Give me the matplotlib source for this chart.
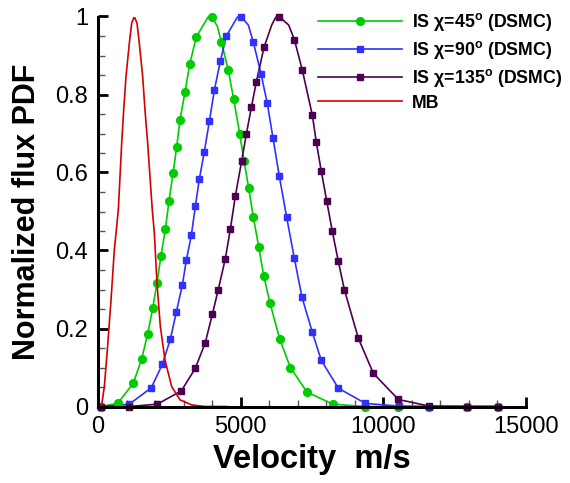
import matplotlib
matplotlib.use("Agg")
import matplotlib.pyplot as plt
from matplotlib.ticker import MultipleLocator, FuncFormatter

plt.rcParams['font.family'] = ['Liberation Sans', 'DejaVu Sans']
plt.rcParams['mathtext.fontset'] = 'custom'
plt.rcParams['mathtext.rm'] = 'Liberation Sans:bold'

# IS chi=45 (DSMC), markers
g_v = [105, 690, 1238, 1531, 1741, 1917, 2068, 2208, 2360, 2489, 2629, 2757, 2874,
       3049, 3213, 3446, 3985, 4323, 4568, 4755, 4966, 5117, 5282, 5445, 5632, 5808,
       6029, 6368, 6741, 7326, 8226, 9358, 10526, 11612, 12944, 14030]
g_f = [0.0, 0.008, 0.060, 0.122, 0.186, 0.252, 0.317, 0.387, 0.454, 0.527, 0.598, 0.665, 0.735,
       0.806, 0.877, 0.948, 1.0, 0.935, 0.862, 0.788, 0.699, 0.630, 0.560, 0.485, 0.410, 0.335,
       0.265, 0.173, 0.100, 0.037, 0.006, 0.0, 0.0, 0.0, 0.0, 0.0]
# extra line points near the peak (no marker)
g_pk_v = [3691, 3850, 4182]
g_pk_f = [0.978, 0.998, 0.975]

# IS chi=90 (DSMC)
b_v = [105, 1097, 1868, 2254, 2534, 2745, 2955, 3096, 3271, 3411, 3551, 3726, 3902, 4077,
       4287, 4498, 5012, 5445, 5713, 5934, 6134, 6356, 6612, 6881, 7150, 7512, 7827, 8423,
       9370, 10538, 11612, 12944, 14030]
b_f = [0.0, 0.006, 0.048, 0.108, 0.172, 0.242, 0.311, 0.375, 0.439, 0.513, 0.583, 0.653, 0.731, 0.811,
       0.885, 0.950, 1.0, 0.934, 0.853, 0.777, 0.688, 0.590, 0.485, 0.380, 0.280, 0.190, 0.118, 0.047,
       0.008, 0.001, 0.0, 0.0, 0.0]
b_pk_v = [4721, 4880, 5269]
b_pk_f = [0.978, 0.998, 0.978]

# IS chi=135 (DSMC)
p_v = [105, 1097, 2078, 2920, 3411, 3761, 4006, 4216, 4462, 4637, 4812, 5036, 5198, 5374,
       5549, 5818, 6344, 6881, 7162, 7512, 7652, 7827, 8016, 8212, 8423, 8633, 9124, 9650,
       10526, 11612, 12944, 14030]
p_f = [0.0, 0.0, 0.006, 0.040, 0.098, 0.164, 0.236, 0.300, 0.379, 0.454, 0.539, 0.630, 0.698, 0.767,
       0.832, 0.921, 1.0, 0.941, 0.862, 0.747, 0.677, 0.603, 0.527, 0.449, 0.372, 0.300, 0.175, 0.085,
       0.018, 0.001, 0.0, 0.0]
p_pk_v = [6087, 6230, 6683]
p_pk_f = [0.978, 0.998, 0.978]

# MB (line only)
r_v = [0, 129, 222, 327, 456, 572, 712, 771, 830, 900, 981, 1097, 1180, 1272, 1367, 1448,
       1566, 1647, 1741, 1822, 1903, 1975, 2068, 2185, 2348, 2583, 2874, 3284, 3750, 4500]
r_f = [0.0, 0.004, 0.051, 0.145, 0.273, 0.401, 0.504, 0.589, 0.675, 0.760, 0.846, 0.931, 0.983, 1.0, 0.983, 0.931,
       0.846, 0.760, 0.675, 0.589, 0.504, 0.444, 0.316, 0.205, 0.119, 0.051, 0.017, 0.004, 0.0, 0.0]

labels = ['IS χ=45$^{\\rm o}$ (DSMC)', 'IS χ=90$^{\\rm o}$ (DSMC)',
          'IS χ=135$^{\\rm o}$ (DSMC)', 'MB']
colors = ['#00cc00', '#3030ff', '#4d0050', '#d40000']


def with_peak(v, f, pv, pf):
    pts = sorted(zip(list(v) + list(pv), list(f) + list(pf)))
    return [a for a, _ in pts], [b for _, b in pts]


fig = plt.figure(figsize=(5.7, 4.83), dpi=100)
ax = fig.add_axes([98 / 570, 1 - 406.5 / 483, 428 / 570, 390 / 483])

series = [(g_v, g_f, g_pk_v, g_pk_f, 'o', 5.6),
          (b_v, b_f, b_pk_v, b_pk_f, 's', 4.6),
          (p_v, p_f, p_pk_v, p_pk_f, 's', 4.6)]
handles = []
for (v, f, pv, pf, m, ms), c, lab in zip(series, colors, labels):
    lv, lf = with_peak(v, f, pv, pf)
    ax.plot(lv, lf, color=c, lw=1.2, clip_on=False, zorder=3)
    ax.plot(v, f, ls='none', marker=m, ms=ms, color=c, mec=c, clip_on=False, zorder=4)
    h, = ax.plot([], [], color=c, lw=1.2, marker=m, ms=ms)
    handles.append(h)

h, = ax.plot(r_v, r_f, color=colors[3], lw=1.2, zorder=5)
handles.append(h)

ax.set_xlim(0, 15000)
ax.set_ylim(0, 1)
ax.xaxis.set_major_locator(MultipleLocator(5000))
ax.xaxis.set_minor_locator(MultipleLocator(1000))
ax.yaxis.set_major_locator(MultipleLocator(0.2))
ax.yaxis.set_minor_locator(MultipleLocator(0.05))
ax.yaxis.set_major_formatter(FuncFormatter(lambda y, pos: '%g' % round(y, 2)))

for s in ['top', 'right']:
    ax.spines[s].set_visible(False)
for s in ['left', 'bottom']:
    ax.spines[s].set_linewidth(2.2)
    ax.spines[s].set_zorder(6)

ax.tick_params(which='major', direction='in', length=7.5, width=2.0, labelsize=17, pad=7)
ax.tick_params(which='minor', direction='in', length=4.8, width=1.0, color='#555555')

ax.set_xlabel('Velocity  m/s', fontsize=23.5, fontweight='bold', labelpad=4)
ax.set_ylabel('Normalized flux PDF', fontsize=22, fontweight='bold', labelpad=10)

fig.legend(handles, labels, loc='upper left', bbox_to_anchor=(318 / 570, 1 - 11 / 483),
           frameon=False, numpoints=1, handlelength=4.7, handletextpad=0.6,
           labelspacing=0.33, borderpad=0, borderaxespad=0,
           prop={'weight': 'bold', 'size': 12.8})

fig.savefig('out.png', dpi=100)
